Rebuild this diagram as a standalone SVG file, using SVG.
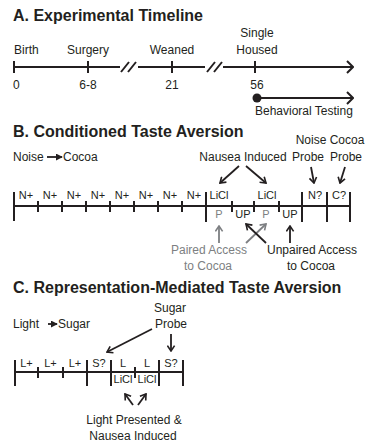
<svg xmlns="http://www.w3.org/2000/svg" width="367" height="447" viewBox="0 0 367 447">
<style>
text{font-family:"Liberation Sans",Arial,sans-serif;font-size:12px;fill:#231f20}
.t{font-weight:bold;font-size:16px}
.s{font-size:11px}
.m{text-anchor:middle}
.g{fill:#7d7f82}
.ln{stroke:#231f20;stroke-width:2;fill:none}
.tk{stroke:#231f20;stroke-width:2}
.ar{stroke:#231f20;stroke-width:1.8;fill:none;marker-end:url(#h)}
.arg{stroke:#7d7f82;stroke-width:1.8;fill:none;marker-end:url(#hg)}
</style>
<defs>
<marker id="big" viewBox="0 0 12 14" refX="11" refY="7" markerWidth="12" markerHeight="14" orient="auto" markerUnits="userSpaceOnUse"><path d="M5,1 L11,7 L5,13" fill="none" stroke="#231f20" stroke-width="2"/></marker>
<marker id="h" viewBox="0 0 10 10" refX="9" refY="5" markerWidth="9" markerHeight="9" orient="auto" markerUnits="userSpaceOnUse"><path d="M3,1 L9,5 L3,9" fill="none" stroke="#231f20" stroke-width="1.8"/></marker>
<marker id="hg" viewBox="0 0 10 10" refX="9" refY="5" markerWidth="9" markerHeight="9" orient="auto" markerUnits="userSpaceOnUse"><path d="M3,1 L9,5 L3,9" fill="none" stroke="#7d7f82" stroke-width="1.8"/></marker>
<marker id="fh" viewBox="0 0 8 8" refX="7" refY="4" markerWidth="7" markerHeight="7" orient="auto" markerUnits="userSpaceOnUse"><path d="M0,0 L8,4 L0,8 Z" fill="#231f20"/></marker>
</defs>

<g id="sectionA">
<text class="t" x="13" y="21">A. Experimental Timeline</text>
<text x="14" y="54">Birth</text>
<text class="m" x="88" y="54">Surgery</text>
<text class="m" x="172" y="54">Weaned</text>
<text class="m" x="257" y="37">Single</text>
<text class="m" x="257" y="54">Housed</text>
<text x="13" y="89">0</text>
<text class="m" x="88" y="89">6-8</text>
<text class="m" x="172" y="89">21</text>
<text class="m" x="257" y="89">56</text>
<text x="255" y="115">Behavioral Testing</text>
<g id="timelineA">
<path class="ln" d="M14,67 H120 M138,67 H205 M223,67 H353" marker-end="url(#big)"/>
<path class="tk" d="M14,61 V73 M88,61 V73 M172,61 V73 M255,61 V73"/>
<path class="tk" d="M121,72 L129,62 M128,72 L136,62 M207,72 L215,62 M214,72 L222,62"/>
<circle cx="257" cy="98" r="4.5" fill="#231f20"/>
<path class="ln" d="M257,98 H353" marker-end="url(#big)"/>
</g>
</g>

<g id="sectionB">
<text class="t" x="13" y="137">B. Conditioned Taste Aversion</text>
<text x="13" y="161">Noise</text>
<text x="63" y="161">Cocoa</text>
<text class="m" x="243" y="161">Nausea Induced</text>
<text class="m" x="311" y="144">Noise</text>
<text class="m" x="308" y="161">Probe</text>
<text class="m" x="347" y="144">Cocoa</text>
<text class="m" x="346" y="161">Probe</text>
<g id="timelineB">
<path class="ln" d="M14,206 H350"/>
<path class="tk" d="M14,192 V221 M206,192 V222 M302,192 V222 M327,192 V222 M350,192 V222"/>
<path class="tk" d="M38,201 V212 M62,201 V212 M86,201 V212 M110,201 V212 M134,201 V212 M158,201 V212 M182,201 V212 M232,201 V212 M254,201 V212 M279,201 V212"/>
<text class="s m" x="26" y="199">N+</text>
<text class="s m" x="50" y="199">N+</text>
<text class="s m" x="74" y="199">N+</text>
<text class="s m" x="98" y="199">N+</text>
<text class="s m" x="122" y="199">N+</text>
<text class="s m" x="146" y="199">N+</text>
<text class="s m" x="170" y="199">N+</text>
<text class="s m" x="194" y="199">N+</text>
<text class="s m" x="219" y="199">LiCl</text>
<text class="s m" x="267" y="199">LiCl</text>
<text class="s m" x="315" y="199">N?</text>
<text class="s m" x="339" y="199">C?</text>
<text class="s m g" x="219" y="218">P</text>
<text class="s m" x="243" y="218">UP</text>
<text class="s m g" x="266" y="218">P</text>
<text class="s m" x="290" y="218">UP</text>
</g>
<text class="m g" x="209" y="254">Paired Access</text>
<text class="m g" x="208" y="270">to Cocoa</text>
<text class="m" x="312" y="254">Unpaired Access</text>
<text class="m" x="311" y="270">to Cocoa</text>
</g>

<g id="sectionC">
<text class="t" x="13" y="293">C. Representation-Mediated Taste Aversion</text>
<text class="m" x="170" y="312">Sugar</text>
<text class="m" x="171" y="328">Probe</text>
<text x="13" y="328">Light</text>
<text x="58" y="328">Sugar</text>
<g id="timelineC">
<path class="ln" d="M15,372 H183"/>
<path class="tk" d="M15,360 V386 M87,360 V386 M111,360 V386 M159,360 V386 M183,360 V386"/>
<path class="tk" d="M38,367 V378 M63,367 V378 M135,367 V378"/>
<text class="s m" x="26.5" y="367">L+</text>
<text class="s m" x="50.5" y="367">L+</text>
<text class="s m" x="75" y="367">L+</text>
<text class="s m" x="99" y="367">S?</text>
<text class="s m" x="123" y="367">L</text>
<text class="s m" x="147" y="367">L</text>
<text class="s m" x="171" y="367">S?</text>
<text class="s m" x="123" y="383">LiCl</text>
<text class="s m" x="147" y="383">LiCl</text>
</g>
<text class="m" x="134" y="424">Light Presented &amp;</text>
<text class="m" x="133" y="440">Nausea Induced</text>
</g>

<g id="connectors">
<path d="M47,157 H62" stroke="#231f20" stroke-width="1.8" marker-end="url(#fh)"/>
<path class="ar" d="M239,166 L220,183"/>
<path class="ar" d="M246,166 L266,183"/>
<path class="ar" d="M311,167 L314,183"/>
<path class="ar" d="M345,167 L340,183"/>
<path class="arg" d="M219,243 V226"/>
<path class="arg" d="M246,243 L266,224"/>
<path class="ar" d="M266,243 L246,224"/>
<path class="ar" d="M290,243 V226"/>
<path d="M48,324 H57" stroke="#231f20" stroke-width="1.8" marker-end="url(#fh)"/>
<path class="ar" d="M152,329 L107,352"/>
<path class="ar" d="M171,334 V351"/>
<path class="ar" d="M133,405 L125,394"/>
<path class="ar" d="M138,405 L146,394"/>
</g>
</svg>
